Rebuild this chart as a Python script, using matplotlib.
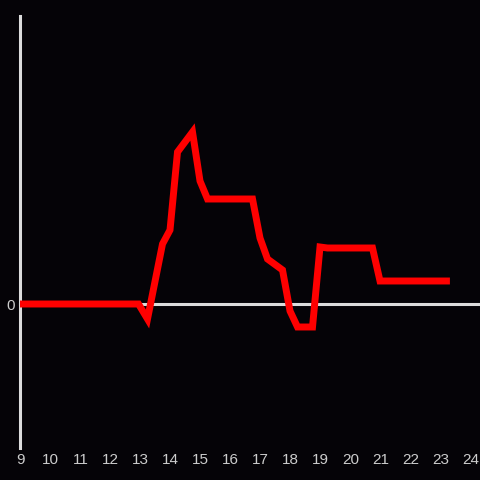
import matplotlib
matplotlib.use("Agg")
import matplotlib.pyplot as plt
import matplotlib.transforms as mtrans

# hours (decimal) and values
hours = [9.0, 12.95, 13.25, 13.75, 14.0, 14.25, 14.75, 15.0, 15.25, 16.75, 17.0, 17.25,
         17.75, 18.0, 18.25, 18.75, 19.0, 19.25, 20.75, 21.0, 23.33]
values = [0, 0, -15, 60, 74, 152, 172, 123, 105, 105, 66, 45,
          34, -7, -23, -23, 57, 56, 56, 23, 23]
xticks = list(range(9, 25))

bg = "#050307"
axis_col = "#dcdcdc"
text_col = "#cccccc"

fig = plt.figure(figsize=(4.8, 4.8), dpi=100, facecolor=bg)
ax = fig.add_axes([20/480, 32/480, 460/480, 432/480], facecolor=bg)

ax.plot(hours, values, color="#ff0000", lw=5, solid_joinstyle="miter", solid_capstyle="butt", zorder=3)

ax.set_xlim(9, 24.333)
ax.set_ylim(-144, 288)

for s in ["top", "right"]:
    ax.spines[s].set_visible(False)
ax.spines["bottom"].set_position(("data", 0))
ax.spines["bottom"].set_color(axis_col)
ax.spines["bottom"].set_linewidth(2.2)
ax.spines["left"].set_color(axis_col)
ax.spines["left"].set_linewidth(2.2)

ax.set_xticks(xticks)
ax.set_xticklabels([str(t) for t in xticks])
ax.set_yticks([0])
ax.set_yticklabels(["0"])
ax.tick_params(axis="both", length=0, colors=text_col, labelsize=11, labelfontfamily="Liberation Sans")
ax.tick_params(axis="y", pad=3.5)
offset = mtrans.ScaledTranslation(0.5/100, -5/100, fig.dpi_scale_trans)
for lbl in ax.get_xticklabels():
    lbl.set_transform(ax.get_xaxis_transform() + offset)
    lbl.set_y(0)
    lbl.set_verticalalignment("top")

fig.savefig("out.png", dpi=100, facecolor=bg)
